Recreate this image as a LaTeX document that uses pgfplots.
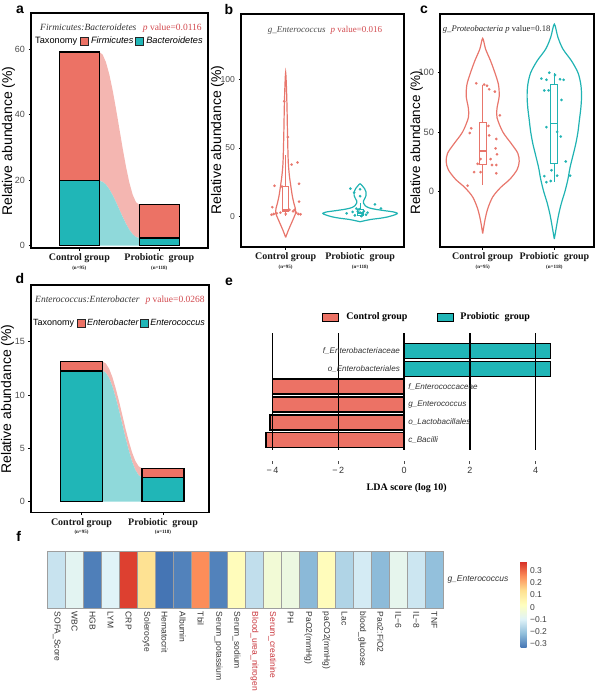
\documentclass[border=0pt]{standalone}
\usepackage{fontspec}
\setmainfont{Liberation Sans}
\newfontfamily\tnr{Liberation Serif}
\usepackage{pgfplots}
\pgfplotsset{compat=1.18}
\definecolor{redc}{HTML}{EC7265}
\definecolor{tealc}{HTML}{20B6B7}
\definecolor{flowpink}{HTML}{F4B6B1}
\definecolor{flowteal}{HTML}{8FD9DA}
\definecolor{violR}{HTML}{E8766C}
\definecolor{violT}{HTML}{20B3B3}
\definecolor{pred}{HTML}{D24A4F}
\definecolor{labred}{HTML}{C8343A}
\newcommand\grp[2]{#1\\[-1.5pt]{\fontsize{5}{5}\selectfont #2}}
\newcommand\sq[1]{{\setlength\fboxsep{0pt}\setlength\fboxrule{0.9pt}\raisebox{-1pt}{\fcolorbox{black!85}{#1}{\rule{0pt}{6.6pt}\rule{6.6pt}{0pt}}}}}
\newcommand\lbox[1]{{\setlength\fboxsep{0pt}\setlength\fboxrule{1.1pt}\raisebox{-1.2pt}{\fcolorbox{black}{#1}{\rule{0pt}{7pt}\rule{15pt}{0pt}}}}}
\pgfdeclareplotmark{hcell}{\pgfpathrectangle{\pgfpoint{-8.99pt}{-28.3pt}}{\pgfpoint{17.98pt}{56.6pt}}\pgfusepathqfillstroke}
\pgfplotsset{
  panel/.style={scale only axis, axis line style={line width=1.5pt}, tick align=outside,
    major tick length=2.5pt, tick style={black, line width=0.7pt}, tick pos=left,
    yticklabel style={font=\fontsize{9}{10}\selectfont, text=black!70},
    /pgf/number format/assume math mode=true,
    xtick={1,2}, xticklabels={\grp{Control group}{(n=95)}, \grp{Probiotic\ \ group}{(n=118)}},
    xticklabel style={align=center, font=\tnr\bfseries\fontsize{10}{10}\selectfont, text=black!90},
    ylabel={Relative abundance (\%)}, ylabel style={font=\fontsize{14}{14}\selectfont, anchor=center},
    clip=false},
  bars/.style={ybar, bar shift=0pt, draw=black, line width=1.3pt},
  vio/.style={smooth, line width=1.2pt},
  bxbox/.style={fill=white, line width=1pt},
  bxmed/.style={line width=1.8pt},
  bxwh/.style={line width=1pt},
}
\begin{document}
\begin{tikzpicture}
\path[use as bounding box] (0,0) rectangle (601pt,-694pt);

% ---------------- panel a
\begin{axis}[panel, at={(31pt,-248pt)}, anchor=south west, width=177pt, height=235pt,
  xmin=0.396, xmax=2.609, ymin=-0.7, ymax=71, ytick={0,20,40,60},
  ylabel style={at={([xshift=-22.5pt]axis description cs:0,0.455)}}]
\addplot[fill=flowpink, draw=none] coordinates {(1.25,59.1) (1.2917,58.31) (1.3333,55.98) (1.375,52.28) (1.4167,47.45) (1.4583,41.83) (1.5,35.8) (1.5417,29.77) (1.5833,24.15) (1.625,19.32) (1.6667,15.62) (1.7083,13.29) (1.75,12.5)
 (1.75,2.35) (1.7083,2.65) (1.6667,3.52) (1.625,4.90) (1.5833,6.71) (1.5417,8.82) (1.5,11.08) (1.4583,13.33) (1.4167,15.44) (1.375,17.25) (1.3333,18.63) (1.2917,19.50) (1.25,19.8)} -- cycle;
\addplot[fill=flowteal, draw=none] coordinates {(1.25,19.8) (1.2917,19.50) (1.3333,18.63) (1.375,17.25) (1.4167,15.44) (1.4583,13.33) (1.5,11.08) (1.5417,8.82) (1.5833,6.71) (1.625,4.90) (1.6667,3.52) (1.7083,2.65) (1.75,2.35) (1.75,0) (1.25,0)} -- cycle;
\addplot[bars, bar width=40pt, fill=redc] coordinates {(1,59.1) (2,12.5)};
\addplot[bars, bar width=40pt, fill=tealc] coordinates {(1,19.8) (2,2.35)};
\end{axis}

% ---------------- panel b
\begin{axis}[panel, axis line style={line width=1.8pt}, at={(241pt,-247pt)}, anchor=south west, width=163pt, height=233pt,
  xmin=0.4, xmax=2.59, ymin=-22, ymax=147.5, ytick={0,50,100},
  yticklabel style={font=\fontsize{8.6}{10}\selectfont},
  ylabel style={at={([xshift=-23.5pt]axis description cs:0,0.459)}}]
\addplot[vio, violR] coordinates {(1,-15) (1.035,-10) (1.075,-5) (1.115,0) (1.135,3) (1.13,6) (1.11,10) (1.09,15) (1.07,22) (1.05,30) (1.035,40) (1.025,60) (1.018,80) (1.01,95) (1,105)
 (0.99,95) (0.982,80) (0.975,60) (0.965,40) (0.95,30) (0.93,22) (0.91,15) (0.89,10) (0.87,6) (0.865,3) (0.885,0) (0.925,-5) (0.965,-10) (1,-15)};
\addplot[vio, violT] coordinates {(2,-3.6) (2.14,-2) (2.28,-1) (2.38,0) (2.47,1.5) (2.50,2.5) (2.45,3.5) (2.32,4.5) (2.20,5.5) (2.12,6.5) (2.07,8) (2.045,10) (2.045,11.5) (2.06,13) (2.08,15.5) (2.08,18) (2.06,20.5) (2.03,22.5) (2,24)
 (1.97,22.5) (1.94,20.5) (1.92,18) (1.92,15.5) (1.94,13) (1.955,11.5) (1.955,10) (1.93,8) (1.88,6.5) (1.80,5.5) (1.68,4.5) (1.55,3.5) (1.50,2.5) (1.53,1.5) (1.62,0) (1.72,-1) (1.86,-2) (2,-3.6)};
\addplot[bxwh, violR] coordinates {(1,0.5) (1,3.5)};
\addplot[bxwh, violR] coordinates {(1,22) (1,45)};
\addplot[bxbox, draw=violR] coordinates {(0.96,3.5) (1.04,3.5) (1.04,22) (0.96,22)} -- cycle;
\addplot[bxmed, violR] coordinates {(0.96,5) (1.04,5)};
\addplot[bxwh, violT] coordinates {(2,0) (2,1)};
\addplot[bxwh, violT] coordinates {(2,5.5) (2,10)};
\addplot[bxbox, draw=violT] coordinates {(1.96,1) (2.04,1) (2.04,5.5) (1.96,5.5)} -- cycle;
\addplot[bxmed, violT] coordinates {(1.96,2.5) (2.04,2.5)};
\addplot[violR, only marks, mark=*, mark size=1.3pt, mark options={fill=violR, draw=violR, line width=0.1pt}] coordinates {(0.98,84) (1.03,58) (1.08,38) (1.16,39.5) (0.85,22.5) (1.18,24) (1.18,11) (0.82,7) (0.84,2) (0.88,2.5) (0.81,1.5) (1.17,2) (1.20,1.8) (1.14,3) (1.10,4) (1.05,5) (0.95,22) (0.93,3) (1.0,2) (1.12,5)};
\addplot[violT, only marks, mark=*, mark size=1.3pt, mark options={fill=violT, draw=violT, line width=0.1pt}] coordinates {(1.87,20.5) (1.92,17.5) (2.0,20) (2.0,15) (2.2,9) (2.28,6) (1.82,2.5) (1.95,6) (1.97,4) (2.0,3) (2.03,2) (2.05,4) (2.08,1.5) (1.93,1) (2.1,3) (1.99,5.5) (2.02,0.5) (1.9,3.5)};
\end{axis}

% ---------------- panel c
\begin{axis}[panel, axis line style={line width=1.8pt}, at={(440pt,-247pt)}, anchor=south west, width=154pt, height=233pt,
  xmin=0.404, xmax=2.554, ymin=-47.3, ymax=149.6, ytick={0,50,100},
  yticklabel style={font=\fontsize{9.2}{10}\selectfont},
  ylabel style={font=\fontsize{13.5}{14}\selectfont, at={([xshift=-23.3pt]axis description cs:0,0.448)}}]
\addplot[vio, violR] coordinates {(1,-36) (1.03,-25) (1.07,-15) (1.14,-5) (1.25,3) (1.38,10) (1.48,18) (1.51,25) (1.49,32) (1.40,40) (1.28,50) (1.20,62) (1.20,70) (1.23,80) (1.22,90) (1.17,100) (1.11,110) (1.04,120) (1,129)
 (0.96,120) (0.89,110) (0.83,100) (0.78,90) (0.77,80) (0.80,70) (0.80,62) (0.72,50) (0.60,40) (0.51,32) (0.49,25) (0.52,18) (0.62,10) (0.75,3) (0.86,-5) (0.93,-15) (0.97,-25) (1,-36)};
\addplot[vio, violT] coordinates {(2,-40.6) (2.03,-30) (2.06,-20) (2.10,-10) (2.15,0) (2.19,10) (2.22,20) (2.26,30) (2.30,40) (2.33,50) (2.35,60) (2.37,70) (2.38,80) (2.37,90) (2.33,100) (2.24,110) (2.12,120) (2.05,130) (2,141)
 (1.95,130) (1.88,120) (1.76,110) (1.67,100) (1.63,90) (1.62,80) (1.63,70) (1.65,60) (1.67,50) (1.70,40) (1.74,30) (1.78,20) (1.81,10) (1.85,0) (1.90,-10) (1.94,-20) (1.97,-30) (2,-40.6)};
\addplot[bxwh, violR] coordinates {(1,5) (1,22)};
\addplot[bxwh, violR] coordinates {(1,58) (1,90)};
\addplot[bxbox, draw=violR] coordinates {(0.95,22) (1.05,22) (1.05,58) (0.95,58)} -- cycle;
\addplot[bxmed, violR] coordinates {(0.95,34) (1.05,34)};
\addplot[bxwh, violT] coordinates {(2,8) (2,23)};
\addplot[bxwh, violT] coordinates {(2,90) (2,100)};
\addplot[bxbox, draw=violT] coordinates {(1.95,23) (2.05,23) (2.05,90) (1.95,90)} -- cycle;
\addplot[bxmed, violT] coordinates {(1.95,57) (2.05,57)};
\addplot[violR, only marks, mark=*, mark size=1.3pt, mark options={fill=violR, draw=violR, line width=0.1pt}] coordinates {(0.91,91) (1.02,90) (1.06,89) (1.09,86) (1.17,84) (0.82,49) (0.84,53) (1.09,47) (1.19,44) (1.18,36) (1.2,31) (0.97,27) (1.11,27) (0.93,23) (1.13,22) (1.19,22) (0.88,16) (0.97,16) (1.19,15) (0.79,4.5) (1.24,64) (1.08,55)};
\addplot[violT, only marks, mark=*, mark size=1.3pt, mark options={fill=violT, draw=violT, line width=0.1pt}] coordinates {(1.82,95) (1.89,94) (1.93,100) (2.01,98) (2.08,94.5) (2.13,94) (1.86,85) (1.92,85) (2.10,77) (1.89,54) (2.04,50) (2.09,46) (2.16,25) (1.86,12.6) (1.96,17.6) (2.04,13) (2.22,13) (1.95,8.5) (1.89,7.5)};
\end{axis}

% ---------------- panel d
\begin{axis}[panel, at={(31pt,-512.3pt)}, anchor=south west, width=178pt, height=227.3pt,
  xmin=0.38, xmax=2.564, ymin=-1.0, ymax=20.3, ytick={0,5,10,15},
  ylabel style={at={([xshift=-23.5pt]axis description cs:0,0.498)}}]
\addplot[fill=flowpink, draw=none] coordinates {(1.258,13.12) (1.298,12.95) (1.339,12.45) (1.379,11.66) (1.419,10.62) (1.460,9.42) (1.5,8.125) (1.540,6.83) (1.581,5.63) (1.621,4.59) (1.661,3.80) (1.702,3.30) (1.742,3.13)
 (1.742,2.29) (1.702,2.46) (1.661,2.96) (1.621,3.75) (1.581,4.78) (1.540,5.98) (1.5,7.27) (1.460,8.56) (1.419,9.76) (1.379,10.79) (1.339,11.58) (1.298,12.08) (1.258,12.25)} -- cycle;
\addplot[fill=flowteal, draw=none] coordinates {(1.258,12.25) (1.298,12.08) (1.339,11.58) (1.379,10.79) (1.419,9.76) (1.460,8.56) (1.5,7.27) (1.540,5.98) (1.581,4.78) (1.621,3.75) (1.661,2.96) (1.702,2.46) (1.742,2.29) (1.742,0) (1.258,0)} -- cycle;
\addplot[bars, bar width=42pt, fill=redc] coordinates {(1,13.12) (2,3.13)};
\addplot[bars, bar width=42pt, fill=tealc] coordinates {(1,12.25) (2,2.29)};
\end{axis}

% ---------------- panel e
\begin{axis}[scale only axis, at={(252.7pt,-461pt)}, anchor=south west, width=309.3pt, height=128pt,
  xmin=-4.6, xmax=4.8, ymin=-0.159, ymax=7, clip=false,
  axis x line=bottom, axis y line=none, axis line style={draw=none},
  xtick={-4,-2,0,2,4}, xticklabels={−\,4,−\,2,0,2,4},
  tick align=outside, major tick length=3pt, tick style={black!70, line width=0.8pt},
  xticklabel style={font=\fontsize{9}{10}\selectfont, text=black!80},
  xlabel={LDA score (log 10)},
  xlabel style={font=\tnr\bfseries\fontsize{10}{10}\selectfont, at={([yshift=-26.7pt]axis description cs:0.498,0)}, anchor=center}]
\addplot[xbar, bar shift=0pt, bar width=15pt, fill=tealc, draw=black, line width=1.3pt] coordinates {(4.46,6) (4.46,5)};
\addplot[xbar, bar shift=0pt, bar width=15pt, fill=redc, draw=black, line width=1.3pt] coordinates {(-4.0,4) (-4.0,3) (-4.07,2) (-4.2,1)};
\addplot[black, line width=1.3pt] coordinates {(-4,0.457) (-4,7)};
\addplot[black, line width=1.3pt] coordinates {(-2,0.457) (-2,7)};
\addplot[black, line width=1.3pt] coordinates {(0,0.457) (0,7)};
\addplot[black, line width=1.3pt] coordinates {(2,0.457) (2,7)};
\addplot[black, line width=1.3pt] coordinates {(4,0.457) (4,7)};
\begin{scope}[every node/.style={font=\itshape\fontsize{8.1}{9}\selectfont, text=black!80, inner sep=0pt}]
\node[anchor=east] at ([xshift=-4pt]axis cs:0,6) {f\_Enterobacteriaceae};
\node[anchor=east] at ([xshift=-4pt]axis cs:0,5) {o\_Enterobacteriales};
\node[anchor=west] at ([xshift=4pt]axis cs:0,4) {f\_Enterococcaceae};
\node[anchor=west] at ([xshift=4pt]axis cs:0,3) {g\_Enterococcus};
\node[anchor=west] at ([xshift=4pt]axis cs:0,2) {o\_Lactobacillales};
\node[anchor=west] at ([xshift=4pt]axis cs:0,1) {c\_Bacilli};
\end{scope}
\end{axis}

% ---------------- panel f
\begin{axis}[scale only axis, at={(47.7pt,-608.3pt)}, anchor=south west, width=395.6pt, height=56.6pt,
  xmin=0.5, xmax=22.5, ymin=0, ymax=1, clip=false,
  axis line style={draw=none}, ytick=\empty, major tick length=0pt, tick style={draw=none},
  xtick={1,...,22},
  xticklabels={SOFA\_Score, WBC, HGB, LYM, CRP, Solerocyte, Hematocrit, Albumin, Tbil, Serum\_potassium, Serum\_sodium, \textcolor{labred}{Blood\_urea\_nitrogen}, \textcolor{labred}{Serum\_creatinine}, PH, PaO2(mmHg), paCO2(mmHg), Lac, blood\_glucose, Pao2:FiO2, IL−6, IL−8, TNF},
  xticklabel style={rotate=-90, anchor=west, font=\fontsize{8.5}{9}\selectfont, text=black!80},
  colormap={rdylbu}{rgb255=(69,117,180) rgb255=(145,191,219) rgb255=(224,243,248) rgb255=(255,255,191) rgb255=(254,224,144) rgb255=(252,141,89) rgb255=(215,48,39)},
  point meta min=-0.33, point meta max=0.37,
  colorbar,
  colorbar style={scale only axis, at={(parent axis.north east)}, anchor=north west, xshift=68.7pt, yshift=-10pt,
    width=6pt, height=86pt, xtick=\empty, ytick={-0.3,-0.2,-0.1,0,0.1,0.2,0.3},
    yticklabels={−0.3,−0.2,−0.1,0,0.1,0.2,0.3}, yticklabel pos=right,
    axis line style={draw=none}, major tick length=0pt, tick style={draw=none},
    yticklabel style={rotate=0, anchor=west, font=\fontsize{8.5}{9}\selectfont, text=black!75}}]
\addplot[scatter, only marks, mark=hcell, point meta=explicit,
  scatter/use mapped color={draw=black!38, fill=mapped color}, mark options={line width=0.9pt}]
  table[meta=c] {
x y c
1 0.5 -0.132
2 0.5 -0.085
3 0.5 -0.315
4 0.5 -0.097
5 0.5 0.35
6 0.5 0.13
7 0.5 -0.33
8 0.5 -0.31
9 0.5 0.253
10 0.5 -0.31
11 0.5 0.03
12 0.5 -0.143
13 0.5 -0.027
14 0.5 -0.05
15 0.5 -0.222
16 0.5 0.03
17 0.5 -0.167
18 0.5 -0.114
19 0.5 -0.219
20 0.5 -0.073
21 0.5 -0.126
22 0.5 -0.21
};
\node[font=\fontsize{10}{10}\selectfont, text=black!70] at ([yshift=-2pt]axis cs:12,0.5) {*};
\node[font=\fontsize{10}{10}\selectfont, text=black!70] at ([yshift=-2pt]axis cs:13,0.5) {*};
\end{axis}

% ---------------- texts
\node[anchor=base west, inner sep=0pt, font=\tnr\fontsize{9.5}{10}\selectfont, text=black!80] at (40pt,-30pt) {\textit{Firmicutes:Bacteroidetes}\hspace{6.5pt}\textcolor{pred}{\textit{p} value=0.0116}};
\node[anchor=base west, inner sep=0pt, font=\fontsize{9.2}{10}\selectfont] at (35pt,-43.8pt) {Taxonomy\hspace{3pt}\sq{redc}\hspace{2.5pt}\textit{Firmicutes}\hspace{2pt}\sq{tealc}\hspace{2.5pt}\textit{Bacteroidetes}};
\node[anchor=base, inner sep=0pt, font=\tnr\fontsize{9}{10}\selectfont, text=black!70] at (325pt,-32pt) {\textit{g\_Enterococcus}\hspace{5pt}\textcolor{pred}{\textit{p} value=0.016}};
\node[anchor=base west, inner sep=0pt, font=\tnr\fontsize{8.6}{10}\selectfont, text=black!85] at (442.7pt,-31.3pt) {\textit{g\_Proteobacteria}\ \textit{p} value=0.18};
\node[anchor=base west, inner sep=0pt, font=\tnr\fontsize{9.5}{10}\selectfont, text=black!80] at (35pt,-302pt) {\textit{Enterococcus:Enterobacter}\hspace{6pt}\textcolor{pred}{\textit{p} value=0.0268}};
\node[anchor=base west, inner sep=0pt, font=\fontsize{9}{10}\selectfont] at (33pt,-325.5pt) {Taxonomy\hspace{3pt}\sq{redc}\hspace{1.5pt}\textit{Enterobacter}\hspace{1.5pt}\sq{tealc}\hspace{1.5pt}\textit{Enterococcus}};
\node[anchor=west, inner sep=0pt] at (322pt,-317.5pt) {\lbox{redc}\hspace{7pt}{\tnr\bfseries\fontsize{10}{10}\selectfont Control group}};
\node[anchor=west, inner sep=0pt] at (437pt,-317.5pt) {\lbox{tealc}\hspace{6pt}{\tnr\bfseries\fontsize{10}{10}\selectfont Probiotic\ \ group}};
\node[anchor=west, inner sep=0pt, font=\itshape\fontsize{8.5}{9}\selectfont, text=black!80] at (447.3pt,-579pt) {g\_Enterococcus};
\begin{scope}[every node/.style={anchor=base, inner sep=0pt, font=\bfseries\fontsize{14}{14}\selectfont}]
\node at (20pt,-13.5pt) {a};
\node at (229pt,-14pt) {b};
\node at (424pt,-13.5pt) {c};
\node at (20pt,-283.3pt) {d};
\node at (229pt,-285pt) {e};
\node at (18.7pt,-541.7pt) {f};
\end{scope}
\end{tikzpicture}
\end{document}
